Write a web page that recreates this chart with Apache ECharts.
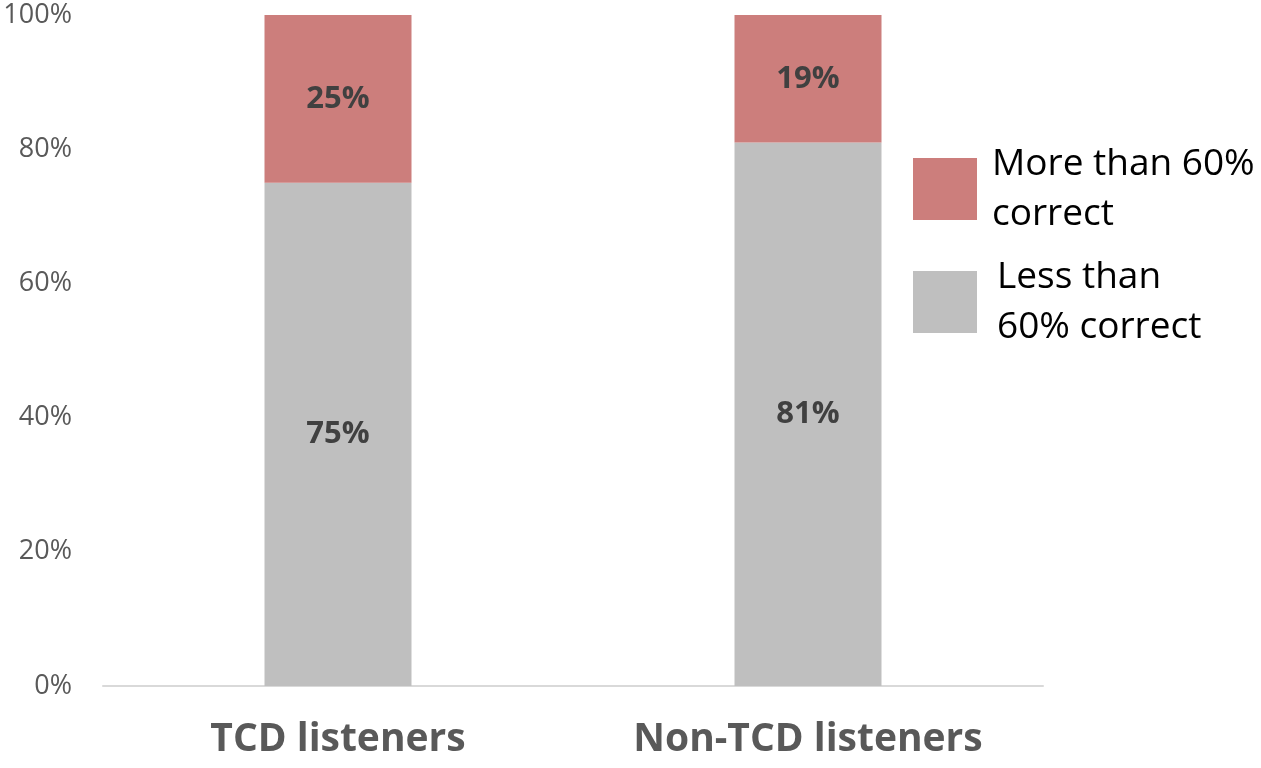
<!DOCTYPE html>
<html>
<head>
<meta charset="utf-8">
<script src="https://cdn.jsdelivr.net/npm/echarts@6/dist/echarts.min.js"></script>
<style>html,body{margin:0;padding:0;background:#fff}#c{width:1261px;height:768px}</style>
</head>
<body>
<div id="c"></div>
<script>
const categories = ['TCD listeners', 'Non-TCD listeners'];
const lessThan60 = [75, 81];
const moreThan60 = [25, 19];
const yTicks = [0, 20, 40, 60, 80, 100];
const seriesNames = ['Less than 60% correct', 'More than 60% correct'];
const legendLabels = {
  'More than 60% correct': 'More than 60%\ncorrect',
  'Less than 60% correct': 'Less than\n60% correct'
};

const FONT = '"Open Sans", sans-serif';
const chart = echarts.init(document.getElementById('c'));
const labelStyle = {
  show: true, position: 'inside', formatter: '{c}%',
  fontFamily: FONT, fontWeight: 'bold', fontSize: 31, color: '#404040'
};
chart.setOption({
  animation: false,
  grid: { left: 103, right: 218, top: 15, bottom: 82, containLabel: false },
  legend: {
    orient: 'vertical', left: 908, top: 134,
    data: [
      { name: seriesNames[1], textStyle: { padding: [0, 0, 0, 10] } },
      { name: seriesNames[0], textStyle: { padding: [0, 0, 0, 15] } }
    ],
    itemWidth: 64, itemHeight: 62, itemGap: 13,
    icon: 'rect',
    formatter: n => legendLabels[n],
    textStyle: { fontFamily: FONT, fontSize: 37, color: '#000', lineHeight: 50 }
  },
  xAxis: {
    type: 'category', data: categories,
    axisLine: { lineStyle: { color: '#D9D9D9', width: 2 } },
    axisTick: { show: false },
    axisLabel: { fontFamily: FONT, fontWeight: 'bold', fontSize: 39, color: '#595959', margin: 34 }
  },
  yAxis: {
    type: 'value', min: yTicks[0], max: yTicks[yTicks.length - 1], interval: 20,
    splitLine: { show: false },
    axisLine: { show: false }, axisTick: { show: false },
    axisLabel: { formatter: '{value}%', fontFamily: FONT, fontSize: 27, color: '#595959', margin: 31 }
  },
  series: [
    { name: seriesNames[0], type: 'bar', stack: 's', data: lessThan60, barWidth: 147,
      itemStyle: { color: '#BFBFBF' }, label: labelStyle },
    { name: seriesNames[1], type: 'bar', stack: 's', data: moreThan60, barWidth: 147,
      itemStyle: { color: '#CC7E7C' }, label: labelStyle }
  ]
});
</script>
</body>
</html>
